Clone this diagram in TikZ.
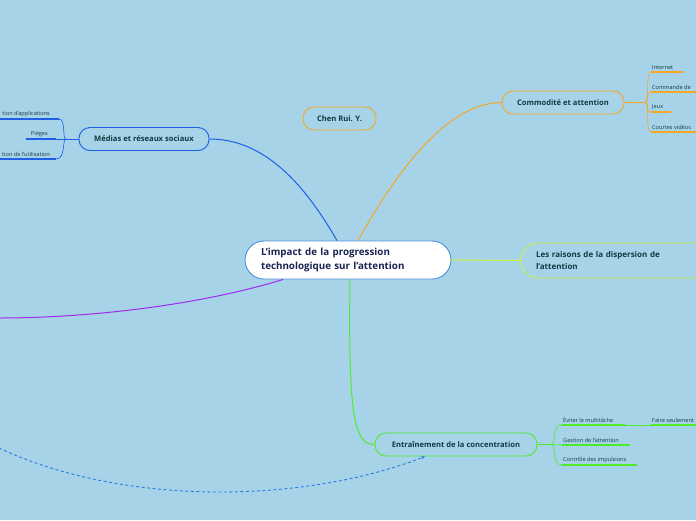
\documentclass[tikz,border=0pt]{standalone}
\usepackage{fontspec}
\setmainfont{Open Sans}
\usetikzlibrary{calc,arrows.meta}
\definecolor{bg}{RGB}{167,211,233}
\definecolor{cblue}{RGB}{30,95,230}
\definecolor{cblueb}{RGB}{74,144,217}
\definecolor{corange}{RGB}{245,166,35}
\definecolor{cgreen}{RGB}{80,235,40}
\definecolor{cyellow}{RGB}{205,240,60}
\definecolor{cpurple}{RGB}{160,40,240}
\definecolor{cdash}{RGB}{40,125,225}
\definecolor{ctext}{RGB}{14,58,66}
\definecolor{cnavy}{RGB}{25,35,80}
\tikzset{
  topic/.style={draw, line width=0.9pt, rounded corners=11pt, inner sep=0pt, text=ctext, font=\bfseries\fontsize{7.6}{8}\selectfont, minimum height=23pt},
  subtext/.style={inner xsep=1pt, inner ysep=2pt, anchor=south west, text=ctext, font=\fontsize{5.6}{6}\selectfont, align=left},
  conn/.style={line width=1pt},
  br/.style={line width=0.6pt},
  ul/.style={line width=1.2pt},
}
\begin{document}
\begin{tikzpicture}[x=1pt,y=-1pt]
\fill[bg] (0,0) rectangle (696,520);
\useasboundingbox (0,0) rectangle (696,520);
\clip (0,0) rectangle (696,520);

% central
\node[draw=cblueb, fill=white, line width=0.9pt, rounded corners=19pt, minimum width=206pt, minimum height=38pt, inner sep=0pt, text width=174pt, align=left, text=cnavy, font=\bfseries\fontsize{9.8}{14}\selectfont] (central) at (348,260) {L'impact de la progression\\technologique sur l'attention};

% main topics
\node[topic, draw=cblue, minimum width=130pt] (medias) at (144,139) {Médias et réseaux sociaux};
\node[topic, draw=corange, minimum width=122pt] (commod) at (563,102.5) {Commodité et attention};
\node[topic, draw=corange, minimum width=73pt] (chen) at (339.5,118.5) {Chen Rui. Y.};
\node[topic, draw=cgreen, minimum width=162pt] (entr) at (456,444.5) {Entraînement de la concentration};
\node[topic, draw=cyellow, rounded corners=17pt, minimum width=200pt, minimum height=35pt, text width=170pt, align=left, font=\bfseries\fontsize{8}{12}\selectfont] (raisons) at (621,260.5) {Les raisons de la dispersion de\\l'attention};

% connectors from central
\coordinate (pend) at (-1,318);
\coordinate (dstart) at (-1,448);
\draw[conn, cblue] ([xshift=-11pt]central.north) .. controls (305,185) and (265,139) .. (medias.east);
\draw[conn, corange] ([xshift=10pt]central.north) .. controls (400,165) and (450,102.5) .. (commod.west);
\draw[conn, cyellow] (central.east) -- (raisons.west);
\draw[conn, cpurple] ([xshift=-65pt]central.south) .. controls (200,305) and (90,318) .. (pend);
\draw[conn, cgreen] ([xshift=2pt]central.south) .. controls (348,420) and (355,444.5) .. (entr.west);
\draw[line width=0.9pt, cdash, dashed, dash pattern=on 3pt off 2.5pt, -{Stealth[length=4pt,width=3.5pt]}] (dstart) .. controls (120,505) and (300,505) .. ([xshift=-31pt]entr.south);

% Médias sub-items
\coordinate (mj) at (66,139);
\node[subtext, anchor=south east, text=ctext] (app) at (51,119) {tion d'applications};
\node[subtext, anchor=south east] (pie) at (49,139) {Pièges};
\node[subtext, anchor=south east] (uti) at (51,159) {tion de l'utilisation};
\coordinate (appL) at (-1,119); \coordinate (appR) at (59,119);
\coordinate (pieL) at (26,139); \coordinate (pieR) at (56,139);
\coordinate (utiL) at (-1,159); \coordinate (utiR) at (56,159);
\draw[ul, cblue] (appL) -- (appR);
\draw[ul, cblue] (pieL) -- (pieR);
\draw[ul, cblue] (utiL) -- (utiR);
\draw[br, cblue] (medias.west) -- (mj);
\draw[br, cblue] (mj) .. controls (62,139) and (66,119) .. (appR);
\draw[br, cblue] (mj) -- (pieR);
\draw[br, cblue] (mj) .. controls (62,139) and (66,159) .. (utiR);

% Commodité sub-items
\coordinate (cj) at (645,102.5);
\node[subtext] (int) at (651,72) {Internet};
\node[subtext] (cmd) at (651,92) {Commande de};
\node[subtext] (jeu) at (651,112) {Jeux};
\node[subtext] (vid) at (651,132) {Courtes vidéos};
\draw[ul, corange] (int.south west) -- ++(32,0);
\draw[ul, corange] (cmd.south west) -- ++(60,0);
\draw[ul, corange] (jeu.south west) -- ++(20,0);
\draw[ul, corange] (vid.south west) -- ++(60,0);
\draw[br, corange, line width=1.2pt] (commod.east) -- (cj);
\foreach \n in {int,cmd,jeu,vid}{
  \draw[br, corange] (cj) .. controls (650,102.5) and (645,102.5|-\n.south west) .. (\n.south west);
}

% Entraînement sub-items
\coordinate (ej) at (551,444.5);
\node[subtext] (evi) at (562,425) {Éviter le multitâche};
\node[subtext] (ges) at (562,445) {Gestion de l'attention};
\node[subtext] (con) at (562,465) {Contrôle des impulsions};
\node[subtext] (fai) at (651,425) {Faire seulement};
\coordinate (eviR) at (625,425);
\draw[ul, cgreen] (evi.south west) -- (eviR);
\draw[ul, cgreen] (ges.south west) -- ++(68,0);
\draw[ul, cgreen] (con.south west) -- ++(75,0);
\draw[ul, cgreen] (fai.south west) -- ++(60,0);
\draw[br, cgreen] (eviR) -- (fai.south west);
\draw[br, cgreen] (entr.east) -- (ej);
\foreach \n in {evi,ges,con}{
  \draw[br, cgreen] (ej) .. controls (557,444.5) and (551,444.5|-\n.south west) .. (\n.south west);
}
\end{tikzpicture}
\end{document}
